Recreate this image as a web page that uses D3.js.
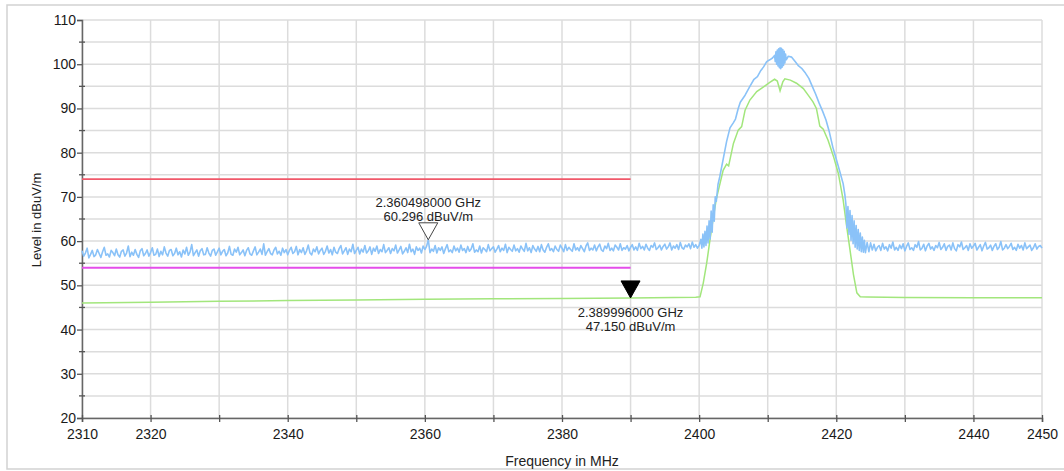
<!DOCTYPE html>
<html>
<head>
<meta charset="utf-8">
<script src="https://cdn.jsdelivr.net/npm/d3@7/dist/d3.min.js"></script>
<style>
  html, body { margin: 0; padding: 0; background: #fff; }
  svg { display: block; font-family: "Liberation Sans", Arial, sans-serif; }
</style>
</head>
<body>
<svg id="chart" width="1064" height="471"></svg>
<script>
// ---- Axis setup ----
const freqDomain = [2310, 2450];           // MHz
const levelDomain = [20, 110];             // dBuV/m
const freqTickValues = [2310, 2320, 2330, 2340, 2350, 2360, 2370, 2380, 2390, 2400, 2410, 2420, 2430, 2440, 2450];
const freqTickLabels = ["2310", "2320", "", "2340", "", "2360", "", "2380", "", "2400", "", "2420", "", "2440", "2450"];
const levelTickValues = [20, 30, 40, 50, 60, 70, 80, 90, 100, 110];
const levelMinorValues = [25, 35, 45, 55, 65, 75, 85, 95, 105];

// ---- Limit lines (level, start MHz, end MHz) ----
const peakLimit = [74, 2310, 2390];
const avgLimit = [54, 2310, 2390];

// ---- Peak detector trace (blue) ----
// 2310.00 .. 2400.00 MHz, one reading every 0.25 MHz
const bluePassbandLow = [
  57.8, 56.6, 57.3, 58.4, 56.2, 57.0, 57.9, 56.5, 56.9, 58.1, 57.2, 56.3, 57.6, 58.6, 56.8, 57.1, 56.4, 57.9, 57.4, 56.7,
  58.2, 56.9, 56.4, 57.7, 58.0, 56.6, 57.3, 58.9, 56.5, 57.5, 56.8, 58.1, 57.0, 56.3, 57.8, 58.3, 56.7, 57.2, 58.0, 56.6,
  57.4, 58.5, 56.8, 57.0, 58.2, 56.5, 57.7, 56.9, 58.7, 57.3, 56.6, 57.9, 58.1, 56.7, 57.2, 58.4, 56.9, 57.6, 56.4, 58.0,
  57.1, 58.6, 56.8, 57.5, 59.2, 56.7, 57.4, 58.0, 56.6, 57.8, 58.3, 56.9, 57.0, 58.5, 57.3, 56.6, 57.9, 58.2, 56.8, 57.6,
  58.4, 56.9, 57.7, 58.1, 56.7, 57.3, 58.8, 57.0, 56.8, 58.2, 57.5, 58.6, 56.9, 57.4, 58.0, 56.7, 57.9, 58.5, 57.1, 56.8,
  57.8, 58.7, 56.9, 57.5, 58.2, 57.0, 59.4, 56.8, 57.6, 58.3, 57.2, 56.9, 58.0, 58.6, 57.1, 57.7, 56.8, 58.4, 57.4, 58.1,
  56.9, 57.9, 58.6, 57.2, 57.6, 58.8, 56.9, 58.1, 57.4, 58.5, 57.0, 57.8, 59.1, 57.3, 56.9, 58.2, 57.6, 58.7, 57.1, 57.9,
  58.4, 57.0, 57.7, 58.9, 57.3, 58.1, 56.9, 58.6, 57.5, 57.2, 58.3, 59.0, 57.1, 57.8, 58.5, 57.0, 58.2, 57.6, 59.3, 57.2,
  57.9, 58.6, 57.1, 58.2, 57.5, 59.0, 57.3, 57.8, 58.7, 57.0, 58.4, 57.7, 58.9, 57.2, 58.1, 57.6, 59.2, 57.4, 57.9, 58.5,
  57.2, 58.3, 57.8, 59.1, 57.3, 58.0, 58.8, 57.1, 57.7, 58.5, 57.4, 59.3, 57.6, 58.2, 57.0, 58.7, 57.9, 58.4, 57.3, 58.9,
  58.1, 58.8, 60.3, 57.4, 58.2, 57.7, 59.0, 57.3, 58.5, 57.9, 58.7, 57.2, 58.3, 59.2, 57.6, 58.0, 57.4, 58.9, 57.8, 58.4,
  57.5, 59.1, 57.9, 58.3, 57.4, 58.8, 57.7, 58.2, 59.4, 57.5, 58.0, 57.6, 58.9, 57.3, 58.5, 58.1, 57.6, 59.2, 57.8, 58.3,
  58.7, 57.5, 58.2, 59.0, 57.6, 58.4, 57.9, 59.3, 57.4, 58.6, 58.1, 57.7, 59.1, 57.8, 58.3, 57.5, 58.9, 58.2, 57.7, 59.5,
  57.8, 58.5, 57.4, 59.0, 58.2, 57.7, 58.8, 57.6, 59.2, 58.0, 57.5, 58.6, 59.4, 57.9, 58.3, 57.6, 58.9, 58.1, 57.7, 59.1,
  58.4, 57.6, 59.2, 57.9, 58.6, 58.1, 57.7, 59.4, 58.0, 58.5, 57.8, 59.0, 58.3, 57.6, 58.9, 59.6, 57.9, 58.4, 58.0, 59.1,
  57.8, 58.7, 59.3, 58.0, 57.7, 58.9, 58.3, 59.5, 57.9, 58.4, 57.8, 59.1, 58.6, 58.0, 59.4, 57.9, 58.5, 58.2, 59.0, 57.8,
  58.6, 59.2, 58.0, 58.7, 57.9, 59.5, 58.3, 58.8, 58.0, 59.3, 58.4, 57.9, 59.0, 58.6, 59.6, 58.1, 58.5, 59.1, 58.0, 58.8,
  59.3, 58.2, 58.7, 59.6, 58.0, 58.9, 58.4, 59.2, 58.1, 59.7, 58.5, 58.2, 59.1, 58.7, 59.4, 58.3, 59.8, 58.6, 59.2, 58.4,
  59.0
];
// carrier region, [MHz, dBuV/m]
const blueCarrier = [
  [2400.25, 60.4], [2400.4, 58.4], [2400.55, 61.6], [2400.7, 58.7], [2400.85, 62.2], [2401.0, 59.0],
  [2401.15, 63.4], [2401.3, 59.6], [2401.45, 64.6], [2401.6, 60.5], [2401.75, 66.8], [2401.9, 62.0],
  [2402.05, 68.2], [2402.2, 64.5], [2402.35, 70.0], [2402.5, 69.0], [2402.75, 72.8], [2403.0, 74.5],
  [2403.5, 78.5], [2404.0, 82.5], [2404.5, 85.6], [2405.0, 86.8], [2405.3, 87.6], [2405.7, 90.0],
  [2406.0, 91.4], [2406.7, 93.0], [2407.4, 95.0], [2408.0, 96.6], [2408.5, 97.2], [2409.0, 98.6],
  [2409.4, 99.4], [2409.85, 100.6], [2410.3, 101.0], [2410.7, 101.4], [2411.0, 102.0],
  [2411.1, 100.6], [2411.2, 102.8], [2411.3, 100.0], [2411.4, 103.2], [2411.5, 99.6], [2411.6, 103.5],
  [2411.7, 99.2], [2411.8, 103.7], [2411.9, 99.0], [2412.0, 103.6], [2412.1, 99.3], [2412.2, 103.3],
  [2412.3, 99.7], [2412.4, 102.9], [2412.5, 100.3], [2412.6, 102.3], [2412.7, 101.0],
  [2413.0, 101.8], [2413.5, 101.6], [2414.0, 100.6], [2414.5, 99.6], [2415.0, 99.0], [2415.5, 98.0],
  [2416.0, 96.8], [2416.5, 95.0], [2417.0, 93.2], [2417.5, 91.2], [2418.0, 89.4], [2418.5, 87.4],
  [2419.0, 84.6], [2419.5, 81.2], [2420.0, 78.5], [2420.5, 75.8], [2421.0, 73.0], [2421.25, 70.5],
  [2421.4, 68.4], [2421.55, 63.0], [2421.7, 67.8], [2421.85, 61.5], [2422.0, 66.9], [2422.15, 60.2],
  [2422.3, 65.8], [2422.45, 59.4], [2422.6, 64.6], [2422.75, 58.6], [2422.9, 63.5], [2423.05, 58.2],
  [2423.2, 62.6], [2423.35, 57.9], [2423.5, 61.8], [2423.65, 57.6], [2423.8, 60.9], [2423.95, 57.5],
  [2424.1, 60.2], [2424.25, 57.4], [2424.5, 59.7], [2424.75, 57.6], [2425.0, 59.6]
];
// 2425.25 .. 2450.00 MHz, one reading every 0.25 MHz
const bluePassbandHigh = [
  58.0, 59.3, 57.8, 58.6, 59.0, 57.9, 59.5, 58.2, 58.7, 57.8, 59.2, 58.4, 59.8, 58.0, 58.6, 57.9, 59.1, 58.3, 59.4, 57.8,
  58.8, 59.6, 58.1, 58.5, 57.9, 59.2, 58.6, 59.9, 58.0, 58.4, 59.3, 57.8, 58.9, 59.5, 58.2, 58.7, 57.9, 59.0, 58.5, 59.7,
  58.1, 58.6, 59.4, 57.9, 58.8, 59.1, 58.0, 59.6, 58.3, 57.8, 59.2, 58.7, 59.8, 58.1, 58.5, 59.0, 57.9, 59.4, 58.4, 58.9,
  59.5, 58.0, 58.6, 59.2, 57.8, 58.9, 59.7, 58.2, 58.5, 59.1, 57.9, 58.8, 59.4, 58.1, 58.6, 59.9, 58.0, 58.4, 59.2, 58.3,
  58.8, 59.5, 58.1, 58.6, 57.9, 59.3, 58.4, 59.0, 58.0, 59.6, 58.3, 58.7, 59.1, 57.9, 58.5, 59.4, 58.2, 58.8, 59.0, 58.4
];

// ---- Average detector trace (green), [MHz, dBuV/m] ----
const greenTrace = [
  [2310, 46.0], [2320, 46.2], [2330, 46.4], [2340, 46.55], [2350, 46.7], [2360, 46.85], [2370, 46.95],
  [2380, 47.05], [2390, 47.15], [2399.5, 47.3], [2400.13, 47.4], [2400.6, 50.5], [2401.1, 55.0],
  [2401.6, 60.5], [2402.07, 65.4], [2402.5, 69.5], [2403.04, 73.0], [2403.5, 76.0], [2404.0, 77.4],
  [2404.3, 77.0], [2405.0, 82.1], [2405.7, 85.1], [2406.2, 85.9], [2406.7, 89.6], [2407.4, 91.9],
  [2408.4, 93.8], [2409.4, 94.9], [2410.3, 95.9], [2411.0, 96.6], [2411.4, 96.2], [2411.8, 94.0],
  [2412.2, 96.0], [2412.5, 96.7], [2413.3, 96.4], [2414.2, 95.7], [2415.2, 94.5], [2415.9, 93.0],
  [2416.6, 91.5], [2417.1, 90.0], [2417.6, 86.0], [2418.1, 85.3], [2418.8, 82.8], [2419.6, 79.1],
  [2420.3, 75.3], [2421.0, 69.3], [2421.5, 63.5], [2422.0, 58.0], [2422.5, 52.5], [2423.0, 48.3],
  [2423.5, 47.4], [2424.5, 47.35], [2430, 47.25], [2440, 47.2], [2450, 47.2]
];

// ---- Markers: [MHz, dBuV/m, frequency text, level text, filled] ----
const markers = [
  [2360.498, 60.296, "2.360498000 GHz", "60.296 dBuV/m", false],
  [2389.996, 47.150, "2.389996000 GHz", "47.150 dBuV/m", true]
];

// ---- Build the blue trace in frequency order ----
const blueTrace = [];
bluePassbandLow.forEach((v, i) => blueTrace.push([2310 + i * 0.25, v]));
blueCarrier.forEach(p => blueTrace.push(p));
bluePassbandHigh.forEach((v, i) => blueTrace.push([2425.25 + i * 0.25, v]));

// ---- Drawing ----
const svg = d3.select("#chart");
const margin = { left: 82, right: 22, top: 20, bottom: 53 };
const W = 1064, H = 471;
const FONT = "'Liberation Sans', Arial, sans-serif";

const x = d3.scaleLinear().domain(freqDomain).range([margin.left, W - margin.right]);
const y = d3.scaleLinear().domain(levelDomain).range([H - margin.bottom, margin.top]);

// outer frame
svg.append("rect")
  .attr("x", 7).attr("y", 5).attr("width", 1075).attr("height", 464)
  .attr("fill", "none").attr("stroke", "#d2d2d2").attr("stroke-width", 1.5);

// grid
const grid = svg.append("g").attr("stroke", "#dcdcdc").attr("stroke-width", 1.5);
grid.selectAll("line.h").data(levelTickValues.concat(levelMinorValues)).join("line")
  .attr("x1", x(freqDomain[0])).attr("x2", x(freqDomain[1]))
  .attr("y1", d => y(d)).attr("y2", d => y(d));
grid.selectAll("line.v").data(freqTickValues).join("line")
  .attr("y1", y(levelDomain[0])).attr("y2", y(levelDomain[1]))
  .attr("x1", d => x(d)).attr("x2", d => x(d));

// y axis
const yAxis = svg.append("g")
  .attr("transform", `translate(${x(freqDomain[0])},0)`)
  .call(d3.axisLeft(y).tickValues(levelTickValues).tickSize(5).tickPadding(1).tickFormat(d3.format("d")));
yAxis.selectAll(".tick line").attr("stroke", "#555").attr("stroke-width", 1.3);
yAxis.select(".domain").attr("stroke", "#666").attr("stroke-width", 1.5);
yAxis.selectAll("text").attr("font-size", 14).attr("fill", "#1a1a1a").attr("font-family", FONT);
// minor ticks straddle the axis
svg.append("g").selectAll("line").data(levelMinorValues).join("line")
  .attr("x1", x(freqDomain[0]) - 3).attr("x2", x(freqDomain[0]) + 3)
  .attr("y1", d => y(d)).attr("y2", d => y(d))
  .attr("stroke", "#555").attr("stroke-width", 1.3);

// x axis
const xAxis = svg.append("g")
  .attr("transform", `translate(0,${y(levelDomain[0])})`)
  .call(d3.axisBottom(x).tickValues(freqTickValues).tickSize(4).tickPadding(7)
    .tickFormat((d, i) => freqTickLabels[i]));
xAxis.selectAll(".tick line").attr("stroke", "#555").attr("stroke-width", 1.3).attr("y1", -3);
xAxis.select(".domain").attr("stroke", "#666").attr("stroke-width", 1.5);
xAxis.selectAll("text").attr("font-size", 14).attr("fill", "#1a1a1a").attr("font-family", FONT);

// axis titles
svg.append("text")
  .attr("x", (x(freqDomain[0]) + x(freqDomain[1])) / 2).attr("y", 466)
  .attr("text-anchor", "middle").attr("font-size", 14).attr("fill", "#222")
  .text("Frequency in MHz");
svg.append("text")
  .attr("transform", `translate(41,${y(65) + 1}) rotate(-90)`)
  .attr("text-anchor", "middle").attr("font-size", 13).attr("fill", "#222")
  .text("Level in dBuV/m");

// limit lines
function limitLine(spec, color, width) {
  svg.append("line")
    .attr("x1", x(spec[1])).attr("x2", x(spec[2]))
    .attr("y1", y(spec[0])).attr("y2", y(spec[0]))
    .attr("stroke", color).attr("stroke-width", width);
}
limitLine(peakLimit, "#f0586a", 1.7);
limitLine(avgLimit, "#e44eea", 2);

const line = d3.line().x(d => x(d[0])).y(d => y(d[1]));

svg.append("path").datum(greenTrace)
  .attr("d", line).attr("fill", "none")
  .attr("stroke", "#a2e67c").attr("stroke-width", 1.5);

svg.append("path").datum(blueTrace)
  .attr("d", line).attr("fill", "none")
  .attr("stroke", "#8ac2f8").attr("stroke-width", 1.6).attr("stroke-linejoin", "round");

// markers
markers.forEach(m => {
  const mx = x(m[0]), my = y(m[1]);
  svg.append("path")
    .attr("d", `M${mx},${my} L${mx - 9.5},${my - 17} L${mx + 9.5},${my - 17} Z`)
    .attr("fill", m[4] ? "#000" : "#fff")
    .attr("stroke", m[4] ? "#000" : "#444").attr("stroke-width", 1);
  const ty = m[4] ? my + 19 : my - 33;
  svg.append("text").attr("x", mx).attr("y", ty)
    .attr("text-anchor", "middle").attr("font-size", 13).attr("fill", "#222").text(m[2]);
  svg.append("text").attr("x", mx).attr("y", ty + 14)
    .attr("text-anchor", "middle").attr("font-size", 13).attr("fill", "#222").text(m[3]);
});
</script>
</body>
</html>
